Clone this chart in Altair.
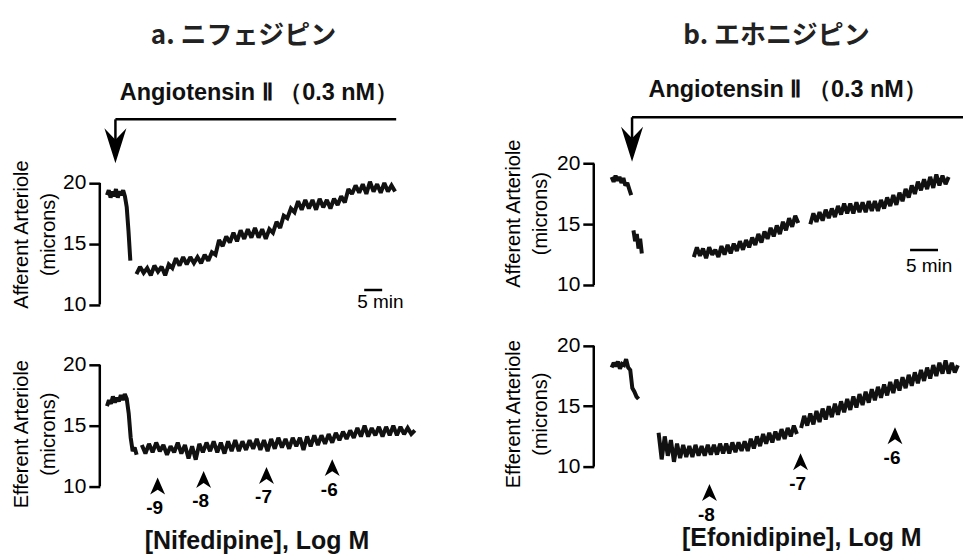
import altair as alt
import pandas as pd

FONT = "Liberation Sans"
CJK = "Noto Sans CJK JP"

# ---------------- data (time in min, diameter in microns) ----------------
# each trace: list of (start_min, sample_interval_min, values)
A_AFF = [
    (2.0, 0.5, [19.0, 19.4, 18.8, 19.3, 18.9, 19.5, 18.8, 19.3, 19.0, 19.4, 18.9, 18.0, 16.0, 13.6]),
    (10.2, 1.0, [12.5, 13.1, 12.6, 13.0, 12.4, 13.2, 12.7, 13.1, 12.4, 13.3,
                 13.0, 13.8, 13.2, 13.9, 13.3, 13.9, 13.4, 13.9, 13.4, 14.1,
                 13.6, 14.3, 14.1, 15.3, 14.8, 15.6, 15.1, 15.9, 15.2, 16.1,
                 15.4, 16.2, 15.5, 16.3, 15.5, 16.2, 15.4, 16.2, 15.9, 16.8,
                 16.3, 17.3, 17.1, 17.9, 17.6, 18.5, 17.8, 18.6, 17.9, 18.6,
                 17.8, 18.7, 18.0, 18.6, 17.9, 18.7, 18.2, 18.9, 18.4, 19.5,
                 19.1, 19.8, 19.2, 19.9, 19.1, 20.1, 19.3, 19.9, 19.2, 20.0,
                 19.3, 19.8, 19.3]),
]
A_EFF = [
    (2.0, 0.55, [16.6, 17.1, 16.8, 17.4, 16.9, 17.3, 17.0, 17.5, 17.1, 17.6, 17.2,
                 16.0, 14.0, 12.9, 13.2, 12.6]),
    (11.7, 1.0, [13.4, 12.7, 13.5, 12.8, 13.6, 12.9, 13.4, 12.6, 13.3, 12.8,
                 13.6, 12.7, 13.4, 12.3, 13.3, 12.2, 13.5, 12.8, 13.6, 12.9,
                 13.7, 12.8, 13.6, 12.7, 13.7, 12.9, 13.8, 12.9, 13.7, 13.0,
                 13.8, 13.1, 13.9, 13.0, 13.8, 12.9, 13.9, 13.1, 14.0, 13.2,
                 13.9, 13.1, 14.0, 13.3, 14.0, 13.0, 14.1, 13.3, 14.2, 13.4,
                 14.2, 13.5, 14.3, 13.6, 14.4, 13.8, 14.5, 13.9, 14.6, 14.0,
                 14.8, 14.1, 15.0, 14.1, 14.8, 14.2, 14.9, 14.1, 14.9, 14.2,
                 15.0, 14.2, 14.9, 14.3, 14.8, 14.3, 14.6]),
]
B_AFF = [
    (3.2, 0.35, [18.9, 18.5, 19.0, 18.6, 18.9, 18.4, 18.8, 18.2, 18.4, 17.9, 17.4]),
    (7.1, 0.3, [14.5, 13.6, 14.2, 13.0, 13.8, 12.6]),
    (17.9, 0.55, [12.3, 13.1, 12.4, 13.0, 12.2, 13.1, 12.5, 12.9, 12.3, 13.2,
                  12.5, 13.3, 12.6, 13.4, 12.8, 13.6, 12.9, 13.7, 13.1, 13.9,
                  13.3, 14.2, 13.5, 14.4, 13.8, 14.7, 14.0, 14.9, 14.2, 15.2,
                  14.5, 15.5, 14.8, 15.7, 15.1]),
    (38.75, 0.55, [15.0, 15.9, 15.2, 16.0, 15.3, 16.2, 15.5, 16.3, 15.6, 16.5,
                   15.8, 16.7, 15.9, 16.7, 15.9, 16.8, 16.0, 16.8, 16.0, 16.9,
                   16.1, 16.9, 16.1, 17.0, 16.3, 17.2, 16.5, 17.4, 16.6, 17.6,
                   16.9, 17.9, 17.2, 18.2, 17.5, 18.5, 17.8, 18.7, 17.9, 18.9,
                   18.0, 19.1, 18.2, 19.0, 18.3, 18.9]),
]
B_EFF = [
    (3.2, 0.37, [18.2, 18.6, 18.3, 18.7, 18.1, 18.5, 18.4, 18.9, 18.2, 18.0, 16.5, 16.2, 15.8, 15.6]),
    (11.6, 0.55, [12.8, 10.6, 12.5, 10.9, 12.2, 10.4, 11.9, 10.7, 11.8, 10.8,
                  11.7, 10.8, 11.8, 10.9, 11.7, 10.9, 11.8, 11.0, 11.8, 11.0,
                  11.9, 11.1, 11.9, 11.1, 12.0, 11.2, 12.0, 11.3, 12.1, 11.3,
                  12.3, 11.5, 12.5, 11.7, 12.7, 11.9, 12.8, 12.0, 12.9, 12.2,
                  13.1, 12.3, 13.2, 12.5, 13.4, 12.7]),
    (37.1, 0.55, [13.2, 14.2, 13.4, 14.4, 13.5, 14.6, 13.7, 14.8, 13.9, 15.0,
                  14.1, 15.2, 14.3, 15.4, 14.5, 15.6, 14.7, 15.8, 14.9, 16.0,
                  15.1, 16.2, 15.3, 16.4, 15.5, 16.6, 15.7, 16.8, 15.9, 17.0,
                  16.1, 17.2, 16.3, 17.4, 16.5, 17.6, 16.7, 17.8, 16.9, 18.0,
                  17.1, 18.2, 17.3, 18.4, 17.5, 18.6, 17.7, 18.8, 17.7, 18.6,
                  17.8, 18.4]),
]

# drug additions (log M): time, level of the marker
A_DOSE_LABELS = ["-9", "-8", "-7", "-6"]
A_DOSE_TIME = [16.1, 28.9, 46.4, 64.7]
A_DOSE_LEVEL = [10.02, 10.56, 10.89, 11.54]
B_DOSE_LABELS = ["-8", "-7", "-6"]
B_DOSE_TIME = [20.7, 37.0, 53.9]
B_DOSE_LEVEL = [7.85, 10.41, 12.56]

# Angiotensin II application: start, end of bar, bar level, arrow stem / head levels, label
A_ANG = dict(t=4.35, t_end=82.5, line=25.24, stem_end=23.5, head=23.06, text_t=44.3, text_v=26.86)
B_ANG = dict(t=6.85, t_end=66.07, line=23.81, stem_end=22.08, head=21.59, text_t=34.7, text_v=25.45)
# panel titles (text, time position, level)
A_TITLE = ("a. ニフェジピン", 40.0, 32.14)
B_TITLE = ("b. エホニジピン", 32.7, 30.54)
# 5-min scale bars: start, level, text time, text level
A_SCALE = (73.6, 11.19, 78.1, 9.71)
B_SCALE = (56.6, 12.88, 60.0, 11.09)

ANG_TEXT = "Angiotensin  Ⅱ （0.3 nM）"
DOWN_HEAD = "M0,1 L-0.63,-1 L0,-0.35 L0.63,-1 Z"
UP_HEAD = "M0,-1 L0.88,1 L0,0.42 L-0.88,1 Z"


def trace_df(segments):
    rows = []
    for k, (start, step, vals) in enumerate(segments):
        for i, v in enumerate(vals):
            rows.append({"t": round(start + i * step, 3), "v": v, "seg": k})
    return pd.DataFrame(rows)


def yaxis(title, title_x, title_y):
    return alt.Axis(values=[10, 15, 20], domain=False, grid=False, ticks=True,
                    tickSize=11, tickWidth=2.5, tickColor="black",
                    labelFont=FONT, labelFontSize=21, labelColor="black", labelPadding=3,
                    title=title, titleFont=FONT, titleFontSize=20, titleFontWeight="normal",
                    titleColor="black", titleAngle=270, titleAlign="center",
                    titleBaseline="top", titleX=title_x, titleY=title_y, titleLineHeight=27)


def xaxis(title, tx, ty):
    return alt.Axis(labels=False, ticks=False, domain=False, grid=False, title=title,
                    titleFont=FONT, titleFontSize=25, titleFontWeight="bold", titleColor="#111111",
                    titleX=tx, titleY=ty, titleAlign="center", titleBaseline="alphabetic")


def base_layers(segments, xmax, ydom, yax, xax=None):
    xs = alt.Scale(domain=[0, xmax], nice=False, zero=False)
    ys = alt.Scale(domain=ydom, nice=False, zero=False)

    def X(f="t"):
        return alt.X(f"{f}:Q", scale=xs, axis=xax)

    def Y(f="v"):
        return alt.Y(f"{f}:Q", scale=ys, axis=yax)

    trace = alt.Chart(trace_df(segments)).mark_line(
        color="#111111", strokeWidth=4, strokeJoin="miter", strokeMiterLimit=2
    ).encode(x=X(), y=Y(), detail="seg:N")
    axis_line = alt.Chart(pd.DataFrame({"t": [0], "v": [10], "v2": [20]})).mark_rule(
        color="black", strokeWidth=2.5
    ).encode(x=X(), y=Y(), y2="v2:Q")
    return X, Y, [trace, axis_line]


def top_panel(segments, xmax, ydom, width, height, yax, ang, title, scale):
    X, Y, layers = base_layers(segments, xmax, ydom, yax)
    layers.append(alt.Chart(pd.DataFrame({"t": [ang["t"]], "t2": [ang["t_end"]], "v": [ang["line"]]}))
                  .mark_rule(color="black", strokeWidth=2.5)
                  .encode(x=X(), x2="t2:Q", y=Y()))
    layers.append(alt.Chart(pd.DataFrame({"t": [ang["t"]], "v": [ang["line"]], "v2": [ang["stem_end"]]}))
                  .mark_rule(color="black", strokeWidth=2.5)
                  .encode(x=X(), y=Y(), y2="v2:Q"))
    layers.append(alt.Chart(pd.DataFrame({"t": [ang["t"]], "v": [ang["head"]]}))
                  .mark_point(shape=DOWN_HEAD, filled=True, size=1225, color="black", opacity=1, strokeWidth=0)
                  .encode(x=X(), y=Y()))
    layers.append(alt.Chart(pd.DataFrame({"t": [ang["text_t"]], "v": [ang["text_v"]], "s": [ANG_TEXT]}))
                  .mark_text(font=FONT, fontSize=23.5, fontWeight="bold", color="#111111",
                             align="center", baseline="alphabetic")
                  .encode(x=X(), y=Y(), text="s:N"))
    layers.append(alt.Chart(pd.DataFrame({"t": [title[1]], "v": [title[2]], "s": [title[0]]}))
                  .mark_text(font=CJK, fontSize=26, fontWeight="bold", color="#222222",
                             align="center", baseline="middle")
                  .encode(x=X(), y=Y(), text="s:N"))
    layers.append(alt.Chart(pd.DataFrame({"t": [scale[0]], "t2": [scale[0] + 5], "v": [scale[1]]}))
                  .mark_rule(color="black", strokeWidth=2.5)
                  .encode(x=X(), x2="t2:Q", y=Y()))
    layers.append(alt.Chart(pd.DataFrame({"t": [scale[2]], "v": [scale[3]], "s": ["5 min"]}))
                  .mark_text(font=FONT, fontSize=19, color="black", align="center", baseline="alphabetic")
                  .encode(x=X(), y=Y(), text="s:N"))
    return alt.layer(*layers).properties(width=width, height=height)


def bottom_panel(segments, xmax, ydom, width, height, yax, xax, labels, times, levels):
    X, Y, layers = base_layers(segments, xmax, ydom, yax, xax)
    mk = pd.DataFrame({"t": times, "v": levels, "s": labels})
    layers.append(alt.Chart(mk).mark_point(shape=UP_HEAD, filled=True, size=289, color="black",
                                           opacity=1, strokeWidth=0)
                  .encode(x=X(), y=Y()))
    layers.append(alt.Chart(mk).mark_text(font=FONT, fontSize=19, fontWeight="bold", color="black",
                                          align="center", baseline="middle", dy=22, dx=-3)
                  .encode(x=X(), y=Y(), text="s:N"))
    return alt.layer(*layers).properties(width=width, height=height)


A_XMAX = 320 / 3.6
B_XMAX = 370 / 5.6

a_top = top_panel(A_AFF, A_XMAX, [9.96, 35.02], 320, 305,
                  yaxis(["Afferent Arteriole", "(microns)"], -88, 234), A_ANG, A_TITLE, A_SCALE)
b_top = top_panel(B_AFF, B_XMAX, [8.357, 33.42], 370, 305,
                  yaxis(["Afferent Arteriole", "(microns)"], -90, 213), B_ANG, B_TITLE, B_SCALE)
a_bot = bottom_panel(A_EFF, A_XMAX, [6.86, 22.88], 320, 195,
                     yaxis(["Efferent Arteriole", "(microns)"], -88, 104),
                     xaxis("[Nifedipine], Log M", 157, 24), A_DOSE_LABELS, A_DOSE_TIME, A_DOSE_LEVEL)
b_bot = bottom_panel(B_EFF, B_XMAX, [5.21, 21.32], 370, 195,
                     yaxis(["Efferent Arteriole", "(microns)"], -90, 84),
                     xaxis("[Efonidipine], Log M", 208, 21), B_DOSE_LABELS, B_DOSE_TIME, B_DOSE_LEVEL)

chart = alt.concat(
    a_top, b_top, a_bot, b_bot,
    columns=2, spacing={"row": 25, "column": 175}, bounds="flush", align="each",
).properties(
    padding={"left": 12, "top": 0, "right": 0, "bottom": 0},
    background="white",
).configure_view(stroke=None)

chart.save("out.html", embed_options={"renderer": "svg", "actions": False})
